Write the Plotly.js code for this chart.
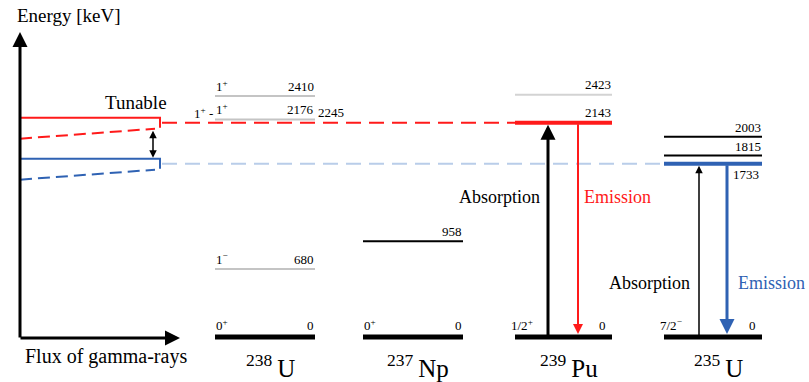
<!DOCTYPE html>
<html><head><meta charset="utf-8">
<script src="https://cdn.plot.ly/plotly-3.0.1.min.js"></script>
<style>html,body{margin:0;padding:0;background:#fff}#chart{width:809px;height:382px}</style>
</head><body><div id="chart"></div>
<script>
// ---------------- data ----------------
const nucleusMass = ['238', '237', '239', '235'];
const nucleusSymbol = ['U', 'Np', 'Pu', 'U'];
const groundSpin = ['0<sup>+</sup>', '0<sup>+</sup>', '1/2<sup>+</sup>', '7/2<sup>\u2212</sup>'];
const groundEnergy = [0, 0, 0, 0];
const u238Energies = [680, 2176, 2410];
const u238Spins = ['1<sup>\u2212</sup>', '1<sup>+</sup>', '1<sup>+</sup>'];
const u238ExtraEnergy = [2245];
const u238ExtraSpin = ['1<sup>+</sup>'];
const np237Energies = [958];
const pu239Energies = [2143, 2423];
const u235Energies = [1733, 1815, 2003];
const resonanceEnergy = [2143, 1733];   // Pu-239, U-235 levels hit by the tunable source
const tunableHalfWidth = [50, 50];      // keV
const tunableTail = [[160, 60], [160, 60]]; // keV below level at left / right end of dashed tail
const transitionLabels = ['Absorption', 'Emission'];
const axisLabels = ['Energy [keV]', 'Flux of gamma-rays'];
const tunableLabel = 'Tunable';

// ---------------- layout constants ----------------
const colStart = [215, 363, 515, 664];
const colEnd = [315, 463, 612, 762];
const RED = '#ff1a1a', BLUE = '#2f62b3', LIGHTBLUE = '#b9cde9', GRAY = '#c4c4c4';
const SERIF = '"Liberation Serif", "Times New Roman", Times, serif';
const LV = 13;
const traces = [];
const ann = [];

function levelTrace(col, energies, color, width) {
  const x = [], y = [];
  energies.forEach(e => { x.push(colStart[col], colEnd[col], null); y.push(e, e, null); });
  traces.push({type: 'scatter', mode: 'lines', x, y, line: {color, width}, hoverinfo: 'skip', showlegend: false});
}
function segTrace(x, y, color, width, dash) {
  traces.push({type: 'scatter', mode: 'lines', x, y, line: {color, width, dash: dash || 'solid'}, hoverinfo: 'skip', showlegend: false});
}
function label(text, x, y, xanchor, yanchor, size, color, yshift, xshift) {
  ann.push({text, x, y, xref: 'x', yref: 'y', xanchor, yanchor, showarrow: false,
    font: {family: SERIF, size, color: color || '#000'}, yshift: yshift || 0, xshift: xshift || 0, borderpad: 0});
}
function arrow(x, yFrom, yTo, color, width, both, xFrom) {
  ann.push({x, y: yTo, ax: (xFrom === undefined ? x : xFrom), ay: yFrom, xref: 'x', yref: 'y', axref: 'x', ayref: 'y',
    showarrow: true, arrowhead: 2, arrowsize: 1, arrowwidth: width, arrowcolor: color, text: '',
    arrowside: both ? 'end+start' : 'end', standoff: 0, startstandoff: 0});
}

// ground states
groundEnergy.forEach((e, i) => {
  levelTrace(i, [e], '#000', 5);
  label(groundSpin[i], colStart[i] - (i >= 2 ? 5 : 0), e, 'left', 'bottom', LV, '#000', 3);
  label(String(e), colEnd[i] - (i >= 2 ? 5 : 0), e, 'right', 'bottom', LV, '#000', 3);
});

// 238U
levelTrace(0, u238Energies, GRAY, 2);
u238Energies.forEach((e, i) => {
  label(u238Spins[i], colStart[0], e, 'left', 'bottom', LV, '#000', 1);
  label(String(e), colEnd[0], e, 'right', 'bottom', LV, '#000', 1);
});
u238ExtraEnergy.forEach((e, i) => {
  label(u238ExtraSpin[i] + ' -', colStart[0] - 1, e, 'right', 'middle', LV);
  label(String(e), colEnd[0] + 2, e, 'left', 'middle', LV);
});

// 237Np
levelTrace(1, np237Energies, '#000', 2);
np237Energies.forEach(e => label(String(e), colEnd[1], e, 'right', 'bottom', LV, '#000', 1));

// 239Pu
const puOther = pu239Energies.filter(e => e !== resonanceEnergy[0]);
levelTrace(2, puOther, '#d3d3d3', 2);
levelTrace(2, [resonanceEnergy[0]], RED, 4);
pu239Energies.forEach(e => label(String(e), colEnd[2], e, 'right', 'bottom', LV, '#000', 2));

// 235U
const uOther = u235Energies.filter(e => e !== resonanceEnergy[1]);
levelTrace(3, uOther, '#000', 2);
levelTrace(3, [resonanceEnergy[1]], BLUE, 4);
uOther.forEach(e => label(String(e), colEnd[3], e, 'right', 'bottom', LV, '#000', 1));
label(String(resonanceEnergy[1]), 732, resonanceEnergy[1], 'left', 'top', LV, '#000', -2);

// tunable source
const srcColors = [RED, BLUE];
resonanceEnergy.forEach((E, i) => {
  const w = tunableHalfWidth[i];
  segTrace([20, 160, 160], [E + w, E + w, E - w], srcColors[i], 2);
  segTrace([20, 155], [E - tunableTail[i][0], E - tunableTail[i][1]], srcColors[i], 2, '12px,6px');
});
segTrace([162, colStart[2]], [resonanceEnergy[0], resonanceEnergy[0]], RED, 2, '15px,8px');
segTrace([162, colStart[3]], [resonanceEnergy[1], resonanceEnergy[1]], LIGHTBLUE, 2, '15px,8px');
arrow(153, resonanceEnergy[0] - tunableHalfWidth[0] - 15, resonanceEnergy[1] + tunableHalfWidth[1] + 10, '#000', 1.5, true);
label(tunableLabel, 136, 2345, 'center', 'middle', 19);

// transitions
arrow(548, 0, resonanceEnergy[0] - 20, '#000', 3);
arrow(578, resonanceEnergy[0], 30, RED, 2);
arrow(699, 0, resonanceEnergy[1] - 20, '#000', 1.5);
arrow(727, resonanceEnergy[1], 30, BLUE, 3);
label(transitionLabels[0], 541, 1400, 'right', 'middle', 18);
label(transitionLabels[1], 583, 1400, 'left', 'middle', 18, RED);
label(transitionLabels[0], 691, 540, 'right', 'middle', 18);
label(transitionLabels[1], 737, 540, 'left', 'middle', 18, BLUE);

// axes arrows
arrow(20, -20, 3050, '#000', 3);
ann.push({x: 180, y: -10, ax: 19, ay: -10, xref: 'x', yref: 'y', axref: 'x', ayref: 'y', showarrow: true,
  arrowhead: 2, arrowsize: 1, arrowwidth: 3, arrowcolor: '#000', text: '', standoff: 0});
label(axisLabels[0], 69, 3220, 'center', 'middle', 19);
label(axisLabels[1], 106, -190, 'center', 'middle', 20);

// nucleus names
nucleusMass.forEach((m, i) => {
  const cx = (colStart[i] + colEnd[i]) / 2 + 5;
  ann.push({text: '<sup>' + m + '</sup>\u2009' + nucleusSymbol[i], x: cx, y: -285, xref: 'x', yref: 'y',
    xanchor: 'center', yanchor: 'middle', showarrow: false, font: {family: SERIF, size: 25, color: '#000'}});
});

const layout = {
  width: 809, height: 382, margin: {l: 0, r: 0, t: 0, b: 0},
  paper_bgcolor: '#fff', plot_bgcolor: '#fff', showlegend: false,
  xaxis: {range: [0, 809], visible: false, fixedrange: true},
  yaxis: {range: [-450, 3370], visible: false, fixedrange: true},
  annotations: ann
};
Plotly.newPlot('chart', traces, layout, {staticPlot: true, displayModeBar: false});
</script>
</body></html>
